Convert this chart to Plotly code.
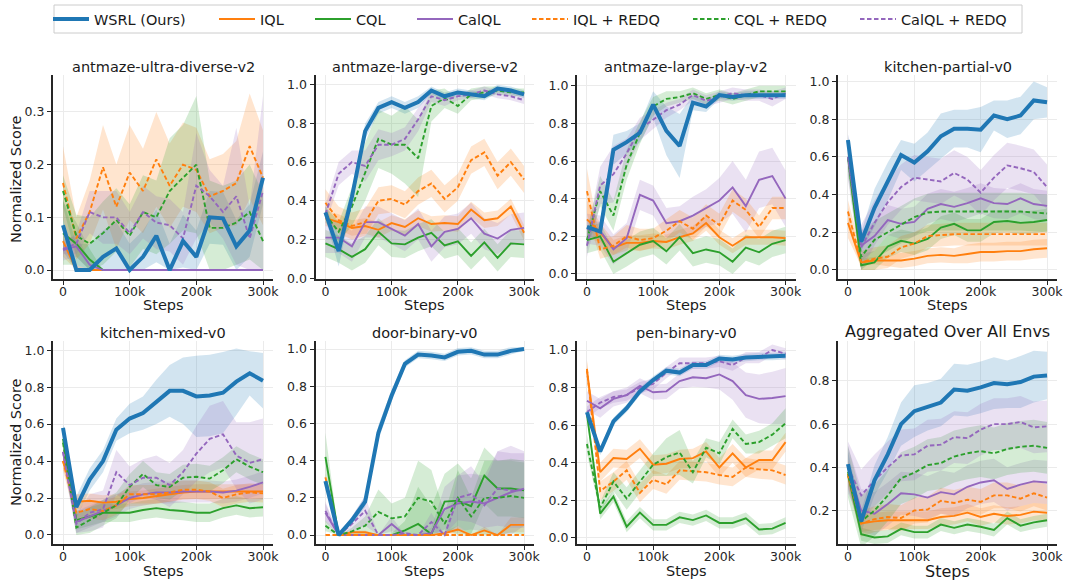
import plotly.graph_objects as go

# ---------------- data ----------------
STEPS = [0, 20000, 40000, 60000, 80000, 100000, 120000, 140000, 160000,
         180000, 200000, 220000, 240000, 260000, 280000, 300000]

SERIES = ["WSRL (Ours)", "IQL", "CQL", "CalQL", "IQL + REDQ", "CQL + REDQ", "CalQL + REDQ"]

TITLES = ["antmaze-ultra-diverse-v2", "antmaze-large-diverse-v2", "antmaze-large-play-v2",
          "kitchen-partial-v0", "kitchen-mixed-v0", "door-binary-v0", "pen-binary-v0",
          "Aggregated Over All Envs"]

X_TICKS = [0, 100000, 200000, 300000]
X_TICK_LABELS = ["0", "100k", "200k", "300k"]

# mean curves per environment
ULTRA_DIVERSE = {
    "WSRL (Ours)": [0.085, 0.0, 0.0, 0.025, 0.041, 0.0, 0.025, 0.065, 0.0, 0.055, 0.025, 0.10, 0.098, 0.045, 0.075, 0.175],
    "IQL": [0.055, 0.0, 0.0, 0.0, 0.0, 0.0, 0.0, 0.0, 0.0, 0.0, 0.0, 0.0, 0.0, 0.0, 0.0, 0.0],
    "CQL": [0.07, 0.05, 0.02, 0.0, 0.0, 0.0, 0.0, 0.0, 0.0, 0.0, 0.0, 0.0, 0.0, 0.0, 0.0, 0.0],
    "CalQL": [0.038, 0.045, 0.01, 0.0, 0.0, 0.0, 0.0, 0.0, 0.0, 0.0, 0.0, 0.0, 0.0, 0.0, 0.0, 0.0],
    "IQL + REDQ": [0.165, 0.06, 0.11, 0.195, 0.12, 0.185, 0.15, 0.21, 0.16, 0.20, 0.19, 0.14, 0.15, 0.165, 0.235, 0.175],
    "CQL + REDQ": [0.15, 0.065, 0.05, 0.07, 0.095, 0.065, 0.11, 0.10, 0.15, 0.175, 0.20, 0.08, 0.08, 0.09, 0.11, 0.055],
    "CalQL + REDQ": [0.04, 0.05, 0.11, 0.10, 0.10, 0.07, 0.11, 0.09, 0.085, 0.06, 0.16, 0.14, 0.11, 0.14, 0.06, 0.15],
}
LARGE_DIVERSE = {
    "WSRL (Ours)": [0.34, 0.14, 0.42, 0.76, 0.88, 0.91, 0.88, 0.91, 0.97, 0.94, 0.96, 0.95, 0.94, 0.98, 0.97, 0.95],
    "IQL": [0.31, 0.29, 0.26, 0.27, 0.25, 0.285, 0.265, 0.31, 0.28, 0.285, 0.28, 0.355, 0.30, 0.31, 0.37, 0.235],
    "CQL": [0.18, 0.15, 0.11, 0.15, 0.24, 0.18, 0.175, 0.21, 0.235, 0.17, 0.19, 0.115, 0.185, 0.105, 0.18, 0.175],
    "CalQL": [0.21, 0.21, 0.165, 0.29, 0.29, 0.255, 0.22, 0.28, 0.165, 0.24, 0.255, 0.31, 0.23, 0.205, 0.25, 0.26],
    "IQL + REDQ": [0.39, 0.30, 0.27, 0.29, 0.40, 0.41, 0.38, 0.45, 0.49, 0.41, 0.47, 0.61, 0.65, 0.53, 0.60, 0.51],
    "CQL + REDQ": [0.33, 0.24, 0.37, 0.55, 0.72, 0.69, 0.69, 0.62, 0.89, 0.93, 0.89, 0.95, 0.96, 0.97, 0.96, 0.96],
    "CalQL + REDQ": [0.33, 0.54, 0.60, 0.58, 0.69, 0.69, 0.72, 0.82, 0.94, 0.92, 0.94, 0.95, 0.97, 0.95, 0.94, 0.92],
}
LARGE_PLAY = {
    "WSRL (Ours)": [0.25, 0.225, 0.66, 0.70, 0.75, 0.90, 0.76, 0.68, 0.91, 0.89, 0.95, 0.94, 0.95, 0.95, 0.95, 0.95],
    "IQL": [0.29, 0.22, 0.14, 0.165, 0.165, 0.175, 0.17, 0.195, 0.215, 0.27, 0.195, 0.15, 0.195, 0.195, 0.195, 0.19],
    "CQL": [0.18, 0.20, 0.065, 0.11, 0.155, 0.175, 0.12, 0.195, 0.11, 0.13, 0.115, 0.065, 0.14, 0.115, 0.16, 0.18],
    "CalQL": [0.24, 0.23, 0.13, 0.19, 0.42, 0.39, 0.27, 0.28, 0.31, 0.35, 0.39, 0.46, 0.36, 0.50, 0.52, 0.40],
    "IQL + REDQ": [0.44, 0.13, 0.15, 0.20, 0.18, 0.19, 0.23, 0.28, 0.24, 0.31, 0.26, 0.39, 0.34, 0.25, 0.35, 0.35],
    "CQL + REDQ": [0.18, 0.44, 0.31, 0.58, 0.75, 0.89, 0.93, 0.94, 0.96, 0.93, 0.95, 0.93, 0.95, 0.97, 0.97, 0.97],
    "CalQL + REDQ": [0.15, 0.47, 0.53, 0.64, 0.77, 0.82, 0.87, 0.90, 0.95, 0.92, 0.94, 0.96, 0.95, 0.95, 0.93, 0.96],
}
KITCHEN_PARTIAL = {
    "WSRL (Ours)": [0.69, 0.15, 0.33, 0.47, 0.61, 0.57, 0.63, 0.71, 0.75, 0.75, 0.745, 0.82, 0.80, 0.82, 0.90, 0.89],
    "IQL": [0.25, 0.04, 0.05, 0.05, 0.05, 0.06, 0.075, 0.08, 0.075, 0.085, 0.095, 0.095, 0.10, 0.10, 0.11, 0.115],
    "CQL": [0.60, 0.025, 0.04, 0.125, 0.155, 0.14, 0.165, 0.225, 0.245, 0.21, 0.21, 0.255, 0.26, 0.25, 0.255, 0.265],
    "CalQL": [0.60, 0.13, 0.18, 0.265, 0.245, 0.255, 0.325, 0.35, 0.335, 0.355, 0.38, 0.355, 0.35, 0.38, 0.35, 0.34],
    "IQL + REDQ": [0.31, 0.04, 0.06, 0.07, 0.12, 0.14, 0.18, 0.185, 0.19, 0.19, 0.19, 0.19, 0.19, 0.19, 0.19, 0.19],
    "CQL + REDQ": [0.60, 0.07, 0.16, 0.20, 0.24, 0.28, 0.305, 0.31, 0.31, 0.31, 0.31, 0.31, 0.31, 0.31, 0.305, 0.30],
    "CalQL + REDQ": [0.60, 0.12, 0.25, 0.36, 0.44, 0.49, 0.48, 0.47, 0.515, 0.48, 0.41, 0.49, 0.555, 0.54, 0.52, 0.44],
}
KITCHEN_MIXED = {
    "WSRL (Ours)": [0.58, 0.15, 0.30, 0.40, 0.57, 0.63, 0.66, 0.72, 0.78, 0.78, 0.75, 0.755, 0.77, 0.83, 0.875, 0.835],
    "IQL": [0.40, 0.18, 0.185, 0.175, 0.18, 0.195, 0.20, 0.21, 0.22, 0.23, 0.235, 0.235, 0.235, 0.235, 0.235, 0.235],
    "CQL": [0.52, 0.08, 0.10, 0.12, 0.12, 0.12, 0.135, 0.145, 0.135, 0.13, 0.12, 0.12, 0.145, 0.16, 0.145, 0.15],
    "CalQL": [0.45, 0.07, 0.10, 0.13, 0.16, 0.20, 0.22, 0.23, 0.23, 0.235, 0.235, 0.235, 0.23, 0.24, 0.26, 0.285],
    "IQL + REDQ": [0.40, 0.12, 0.14, 0.13, 0.16, 0.22, 0.22, 0.22, 0.23, 0.245, 0.245, 0.235, 0.20, 0.22, 0.23, 0.225],
    "CQL + REDQ": [0.50, 0.04, 0.08, 0.12, 0.16, 0.26, 0.33, 0.27, 0.26, 0.31, 0.315, 0.305, 0.35, 0.41, 0.37, 0.34],
    "CalQL + REDQ": [0.45, 0.06, 0.12, 0.14, 0.34, 0.27, 0.31, 0.31, 0.27, 0.34, 0.44, 0.52, 0.545, 0.43, 0.39, 0.41],
}
DOOR_BINARY = {
    "WSRL (Ours)": [0.29, 0.0, 0.08, 0.18, 0.55, 0.75, 0.92, 0.97, 0.965, 0.955, 0.985, 0.99, 0.97, 0.97, 0.99, 1.0],
    "IQL": [0.31, 0.0, 0.015, 0.015, 0.0, 0.0, 0.0, 0.0, 0.0, 0.01, 0.03, 0.0, 0.025, 0.0, 0.055, 0.055],
    "CQL": [0.42, 0.0, 0.0, 0.0, 0.0, 0.0, 0.025, 0.06, 0.005, 0.18, 0.185, 0.155, 0.32, 0.25, 0.25, 0.24],
    "CalQL": [0.12, 0.0, 0.0, 0.0, 0.0, 0.06, 0.0, 0.0, 0.01, 0.14, 0.17, 0.18, 0.17, 0.20, 0.23, 0.25],
    "IQL + REDQ": [0.0, 0.0, 0.0, 0.0, 0.0, 0.0, 0.0, 0.0, 0.0, 0.0, 0.0, 0.0, 0.0, 0.0, 0.0, 0.0],
    "CQL + REDQ": [0.05, 0.0, 0.02, 0.05, 0.125, 0.09, 0.10, 0.20, 0.18, 0.06, 0.20, 0.10, 0.20, 0.20, 0.21, 0.20],
    "CalQL + REDQ": [0.13, 0.0, 0.06, 0.13, 0.0, 0.0, 0.01, 0.0, 0.07, 0.0, 0.20, 0.22, 0.16, 0.25, 0.24, 0.24],
}
PEN_BINARY = {
    "WSRL (Ours)": [0.67, 0.46, 0.62, 0.69, 0.78, 0.84, 0.89, 0.88, 0.92, 0.92, 0.955, 0.95, 0.96, 0.965, 0.965, 0.97],
    "IQL": [0.89, 0.35, 0.425, 0.42, 0.475, 0.39, 0.395, 0.42, 0.425, 0.46, 0.375, 0.45, 0.375, 0.415, 0.415, 0.51],
    "CQL": [0.66, 0.13, 0.22, 0.06, 0.135, 0.07, 0.07, 0.11, 0.095, 0.12, 0.08, 0.08, 0.105, 0.045, 0.05, 0.08],
    "CalQL": [0.73, 0.69, 0.74, 0.76, 0.81, 0.775, 0.78, 0.835, 0.855, 0.85, 0.87, 0.835, 0.76, 0.74, 0.745, 0.755],
    "IQL + REDQ": [0.90, 0.25, 0.30, 0.36, 0.24, 0.31, 0.285, 0.36, 0.355, 0.35, 0.335, 0.325, 0.375, 0.365, 0.36, 0.335],
    "CQL + REDQ": [0.50, 0.16, 0.30, 0.21, 0.30, 0.39, 0.43, 0.455, 0.35, 0.48, 0.45, 0.58, 0.50, 0.51, 0.55, 0.61],
    "CalQL + REDQ": [0.67, 0.72, 0.75, 0.76, 0.80, 0.82, 0.88, 0.93, 0.93, 0.93, 0.94, 0.92, 0.96, 0.96, 1.0, 0.98],
}
AGGREGATED = {
    "WSRL (Ours)": [0.415, 0.15, 0.34, 0.46, 0.60, 0.66, 0.68, 0.70, 0.76, 0.755, 0.77, 0.79, 0.785, 0.795, 0.82, 0.825],
    "IQL": [0.36, 0.14, 0.15, 0.155, 0.155, 0.155, 0.155, 0.17, 0.175, 0.19, 0.17, 0.185, 0.175, 0.18, 0.195, 0.19],
    "CQL": [0.37, 0.09, 0.075, 0.08, 0.115, 0.10, 0.10, 0.135, 0.12, 0.135, 0.125, 0.11, 0.165, 0.13, 0.145, 0.155],
    "CalQL": [0.40, 0.20, 0.185, 0.23, 0.28, 0.275, 0.26, 0.285, 0.275, 0.31, 0.33, 0.34, 0.30, 0.32, 0.335, 0.33],
    "IQL + REDQ": [0.37, 0.14, 0.16, 0.17, 0.165, 0.20, 0.205, 0.245, 0.235, 0.25, 0.24, 0.27, 0.27, 0.255, 0.28, 0.26],
    "CQL + REDQ": [0.38, 0.15, 0.20, 0.27, 0.35, 0.375, 0.41, 0.42, 0.45, 0.465, 0.475, 0.465, 0.485, 0.495, 0.50, 0.49],
    "CalQL + REDQ": [0.40, 0.27, 0.34, 0.40, 0.455, 0.46, 0.50, 0.505, 0.54, 0.535, 0.575, 0.60, 0.60, 0.61, 0.585, 0.59],
}

# half-widths of the shaded bands (scalar = constant over steps)
ULTRA_DIVERSE_BAND = {
    "WSRL (Ours)": 0.05,
    "IQL": [0.03, 0.01, 0, 0, 0, 0, 0, 0, 0, 0, 0, 0, 0, 0, 0, 0],
    "CQL": [0.06, 0.04, 0.02, 0, 0, 0, 0, 0, 0, 0, 0, 0, 0, 0, 0, 0],
    "CalQL": [0.02, 0.02, 0.01, 0, 0, 0, 0, 0, 0, 0, 0, 0, 0, 0, 0, 0],
    "IQL + REDQ": [0.07, 0.04, 0.06, 0.08, 0.08, 0.09, 0.08, 0.09, 0.08, 0.08, 0.08, 0.07, 0.07, 0.08, 0.1, 0.09],
    "CQL + REDQ": [0.03, 0.04, 0.05, 0.06, 0.06, 0.06, 0.07, 0.07, 0.1, 0.1, 0.13, 0.09, 0.08, 0.08, 0.09, 0.09],
    "CalQL + REDQ": [0.01, 0.02, 0.04, 0.05, 0.05, 0.04, 0.05, 0.05, 0.05, 0.05, 0.1, 0.05, 0.05, 0.13, 0.06, 0.18],
}
LARGE_DIVERSE_BAND = {
    "WSRL (Ours)": [0.03, 0.08, 0.04, 0.04, 0.03, 0.03, 0.03, 0.03, 0.02, 0.02, 0.02, 0.02, 0.02, 0.02, 0.02, 0.02],
    "IQL": 0.04, "CQL": 0.07, "CalQL": 0.08, "IQL + REDQ": 0.07,
    "CQL + REDQ": [0.04, 0.05, 0.1, 0.15, 0.15, 0.15, 0.2, 0.2, 0.08, 0.05, 0.04, 0.03, 0.03, 0.02, 0.02, 0.02],
    "CalQL + REDQ": [0.05, 0.06, 0.06, 0.08, 0.08, 0.06, 0.06, 0.06, 0.03, 0.03, 0.02, 0.02, 0.02, 0.02, 0.02, 0.02],
}
LARGE_PLAY_BAND = {
    "WSRL (Ours)": [0.04, 0.05, 0.08, 0.06, 0.05, 0.07, 0.13, 0.17, 0.04, 0.03, 0.02, 0.02, 0.02, 0.02, 0.02, 0.02],
    "IQL": [0.1, 0.05, 0.04, 0.04, 0.04, 0.04, 0.04, 0.04, 0.04, 0.04, 0.04, 0.04, 0.04, 0.04, 0.04, 0.04],
    "CQL": 0.07,
    "CalQL": [0.08, 0.08, 0.08, 0.08, 0.08, 0.08, 0.08, 0.08, 0.1, 0.1, 0.12, 0.14, 0.14, 0.15, 0.15, 0.15],
    "IQL + REDQ": [0.12, 0.05, 0.05, 0.06, 0.06, 0.05, 0.06, 0.06, 0.06, 0.06, 0.06, 0.06, 0.06, 0.06, 0.06, 0.06],
    "CQL + REDQ": [0.05, 0.08, 0.08, 0.08, 0.06, 0.05, 0.04, 0.03, 0.03, 0.03, 0.03, 0.03, 0.03, 0.03, 0.03, 0.03],
    "CalQL + REDQ": [0.06, 0.1, 0.15, 0.08, 0.06, 0.05, 0.04, 0.03, 0.03, 0.03, 0.03, 0.03, 0.03, 0.03, 0.04, 0.03],
}
KITCHEN_PARTIAL_BAND = {
    "WSRL (Ours)": [0.03, 0.05, 0.1, 0.1, 0.08, 0.1, 0.1, 0.12, 0.1, 0.1, 0.12, 0.08, 0.1, 0.1, 0.1, 0.08],
    "IQL": [0.08, 0.02, 0.02, 0.03, 0.04, 0.04, 0.04, 0.04, 0.04, 0.05, 0.05, 0.05, 0.05, 0.05, 0.05, 0.05],
    "CQL": 0.06, "CalQL": 0.08, "IQL + REDQ": 0.06, "CQL + REDQ": 0.1, "CalQL + REDQ": 0.12,
}
KITCHEN_MIXED_BAND = {
    "WSRL (Ours)": [0.02, 0.06, 0.06, 0.06, 0.06, 0.08, 0.09, 0.12, 0.14, 0.18, 0.22, 0.22, 0.22, 0.18, 0.12, 0.15],
    "IQL": 0.04, "CQL": 0.05, "CalQL": 0.06, "IQL + REDQ": 0.05, "CQL + REDQ": 0.07,
    "CalQL + REDQ": [0.02, 0.05, 0.1, 0.1, 0.12, 0.1, 0.1, 0.12, 0.12, 0.12, 0.15, 0.18, 0.18, 0.18, 0.22, 0.22],
}
DOOR_BINARY_BAND = {
    "WSRL (Ours)": [0.02, 0.01, 0.02, 0.03, 0.04, 0.03, 0.02, 0.02, 0.02, 0.02, 0.02, 0.02, 0.02, 0.02, 0.02, 0.01],
    "IQL": [0.02, 0, 0.01, 0.01, 0, 0, 0, 0, 0, 0.01, 0.02, 0, 0.02, 0, 0.04, 0.04],
    "CQL": [0.13, 0, 0, 0, 0, 0.01, 0.05, 0.2, 0.15, 0.15, 0.2, 0.15, 0.15, 0.15, 0.15, 0.15],
    "CalQL": [0.05, 0, 0, 0, 0, 0.04, 0, 0, 0.03, 0.12, 0.15, 0.15, 0.15, 0.25, 0.25, 0.2],
    "IQL + REDQ": 0.0,
    "CQL + REDQ": [0.03, 0, 0.02, 0.05, 0.12, 0.08, 0.1, 0.2, 0.17, 0.06, 0.15, 0.1, 0.2, 0.2, 0.2, 0.2],
    "CalQL + REDQ": [0.05, 0, 0.04, 0.08, 0, 0, 0.01, 0, 0.05, 0, 0.12, 0.15, 0.12, 0.2, 0.2, 0.2],
}
PEN_BINARY_BAND = {
    "WSRL (Ours)": 0.02, "IQL": 0.05, "CQL": 0.03,
    "CalQL": [0.05, 0.05, 0.04, 0.04, 0.04, 0.04, 0.04, 0.04, 0.05, 0.05, 0.08, 0.1, 0.12, 0.13, 0.14, 0.15],
    "IQL + REDQ": 0.05,
    "CQL + REDQ": [0.05, 0.03, 0.05, 0.06, 0.06, 0.06, 0.1, 0.12, 0.06, 0.05, 0.06, 0.05, 0.05, 0.06, 0.06, 0.08],
    "CalQL + REDQ": 0.03,
}
AGGREGATED_BAND = {
    "WSRL (Ours)": [0.06, 0.05, 0.07, 0.08, 0.1, 0.12, 0.11, 0.11, 0.12, 0.12, 0.12, 0.12, 0.11, 0.12, 0.12, 0.11],
    "IQL": 0.04, "CQL": 0.03, "CalQL": 0.1, "IQL + REDQ": 0.06, "CQL + REDQ": 0.12, "CalQL + REDQ": 0.12,
}

PANELS = [ULTRA_DIVERSE, LARGE_DIVERSE, LARGE_PLAY, KITCHEN_PARTIAL,
          KITCHEN_MIXED, DOOR_BINARY, PEN_BINARY, AGGREGATED]
BANDS = [ULTRA_DIVERSE_BAND, LARGE_DIVERSE_BAND, LARGE_PLAY_BAND, KITCHEN_PARTIAL_BAND,
         KITCHEN_MIXED_BAND, DOOR_BINARY_BAND, PEN_BINARY_BAND, AGGREGATED_BAND]

Y_TICKS = [[0.0, 0.1, 0.2, 0.3]] + [[0.0, 0.2, 0.4, 0.6, 0.8, 1.0]] * 6 + [[0.2, 0.4, 0.6, 0.8]]

# ---------------- style ----------------
W, H = 1068, 582
COLORS = {"WSRL (Ours)": (31, 119, 180), "IQL": (255, 127, 14), "CQL": (44, 160, 44),
          "CalQL": (148, 103, 189), "IQL + REDQ": (255, 127, 14), "CQL + REDQ": (44, 160, 44),
          "CalQL + REDQ": (148, 103, 189)}
FONT = "DejaVu Sans"
Y_RANGES = [[-0.017, 0.37], [-0.004, 1.05], [-0.027, 1.057], [-0.048, 1.035],
            [-0.049, 1.05], [-0.048, 1.043], [-0.032, 1.048], [0.045, 0.985]]
COL_PX = [(53, 273), (315.5, 534), (577, 795.5), (838, 1057)]
ROW_PX = [(75, 279), (341, 544)]
TITLE_Y = [67, 333]
STEPS_Y = [305, 571]
LEGEND_HANDLE_X = [58, 224, 320, 422, 537, 698, 865]   # pixel start of each legend handle
LEGEND_BOX = (54, 5, 1022, 33)

fig = go.Figure()


def rgba(c, a):
    return "rgba(%d,%d,%d,%s)" % (c[0], c[1], c[2], a)


def band_list(b):
    return b if isinstance(b, list) else [b] * len(STEPS)


def legend_id(k):
    return "legend" if k == 0 else "legend%d" % (k + 1)


for i, (panel, bands) in enumerate(zip(PANELS, BANDS)):
    xa = "x" if i == 0 else "x%d" % (i + 1)
    ya = "y" if i == 0 else "y%d" % (i + 1)
    # shaded bands
    for s in SERIES:
        m = panel[s]
        hw = band_list(bands[s])
        up = [a + b for a, b in zip(m, hw)]
        lo = [max(a - b, 0.0) for a, b in zip(m, hw)]
        fig.add_trace(go.Scatter(
            x=STEPS + STEPS[::-1], y=up + lo[::-1], xaxis=xa, yaxis=ya,
            fill="toself", fillcolor=rgba(COLORS[s], 0.2), line=dict(width=0),
            mode="lines", hoverinfo="skip", showlegend=False))
    # lines (WSRL on top)
    order = SERIES[1:] + SERIES[:1]
    for s in order:
        k = SERIES.index(s)
        is_w = s == "WSRL (Ours)"
        dashed = "REDQ" in s
        fig.add_trace(go.Scatter(
            x=STEPS, y=panel[s], xaxis=xa, yaxis=ya, mode="lines",
            name=s, legendgroup=s, legend=legend_id(k), showlegend=(i == 0),
            line=dict(color=rgba(COLORS[s], 1), width=4 if is_w else 1.9,
                      dash="4.5px,2.5px" if dashed else "solid")))

annotations = []
for i in range(8):
    r, c = divmod(i, 4)
    x0, x1 = COL_PX[c]
    y0, y1 = ROW_PX[r]
    suffix = "" if i == 0 else str(i + 1)
    fig.layout["xaxis" + suffix] = dict(
        domain=[x0 / W, x1 / W], anchor="y" + suffix, range=[-15000, 315000],
        tickvals=X_TICKS, ticktext=X_TICK_LABELS, showgrid=True, gridcolor="#ebebeb",
        gridwidth=1, zeroline=False, showline=True, linecolor="#262626", linewidth=2,
        ticks="outside", ticklen=4, tickwidth=1.2, tickcolor="#262626", automargin=False,
        ticklabelstandoff=-4,
        tickfont=dict(family=FONT, size=12.5, color="#262626"))
    fig.layout["yaxis" + suffix] = dict(
        domain=[1 - y1 / H, 1 - y0 / H], anchor="x" + suffix, range=Y_RANGES[i],
        tickvals=Y_TICKS[i], tickformat=".1f", showgrid=True, gridcolor="#ebebeb",
        gridwidth=1, zeroline=False, showline=True, linecolor="#262626", linewidth=2,
        ticks="outside", ticklen=4, tickwidth=1.2, tickcolor="#262626", automargin=False,
        tickfont=dict(family=FONT, size=12.5, color="#262626"))
    big = i == 7
    annotations.append(dict(
        text=TITLES[i], x=(x0 + x1) / 2 / W, y=1 - (TITLE_Y[r] - (2 if big else 0)) / H,
        xref="paper", yref="paper", xanchor="center", yanchor="middle", showarrow=False,
        font=dict(family=FONT, size=16 if big else 14.5, color="#1a1a1a")))
    annotations.append(dict(
        text="Steps", x=(x0 + x1) / 2 / W, y=1 - STEPS_Y[r] / H,
        xref="paper", yref="paper", xanchor="center", yanchor="middle", showarrow=False,
        font=dict(family=FONT, size=16 if big else 14.5, color="#1a1a1a")))
    if c == 0:
        annotations.append(dict(
            text="Normalized Score", x=16 / W, y=1 - (179 if r == 0 else 442) / H,
            xref="paper", yref="paper", xanchor="center", yanchor="middle",
            textangle=-90, showarrow=False,
            font=dict(family=FONT, size=14.5, color="#1a1a1a")))

legends = {}
for k, hx in enumerate(LEGEND_HANDLE_X):
    legends[legend_id(k)] = dict(
        orientation="h", x=(hx - 10) / W, y=1 - ((LEGEND_BOX[1] + LEGEND_BOX[3]) / 2) / H,
        xanchor="left", yanchor="middle", bgcolor="rgba(0,0,0,0)", borderwidth=0,
        itemwidth=36, font=dict(family=FONT, size=14.5, color="#1a1a1a"))

bx0, by0, bx1, by1 = LEGEND_BOX
fig.update_layout(
    width=W, height=H, margin=dict(l=0, r=0, t=0, b=0, autoexpand=False),
    paper_bgcolor="white", plot_bgcolor="white",
    annotations=annotations,
    shapes=[dict(type="rect", xref="paper", yref="paper",
                 x0=bx0 / W, x1=bx1 / W, y0=1 - by1 / H, y1=1 - by0 / H,
                 line=dict(color="#cccccc", width=1), fillcolor="white")],
    font=dict(family=FONT),
    **legends,
)

fig.write_html("out.html", config={"displayModeBar": False},
               post_script="document.body.style.margin='0px';document.body.style.overflow='hidden';")
